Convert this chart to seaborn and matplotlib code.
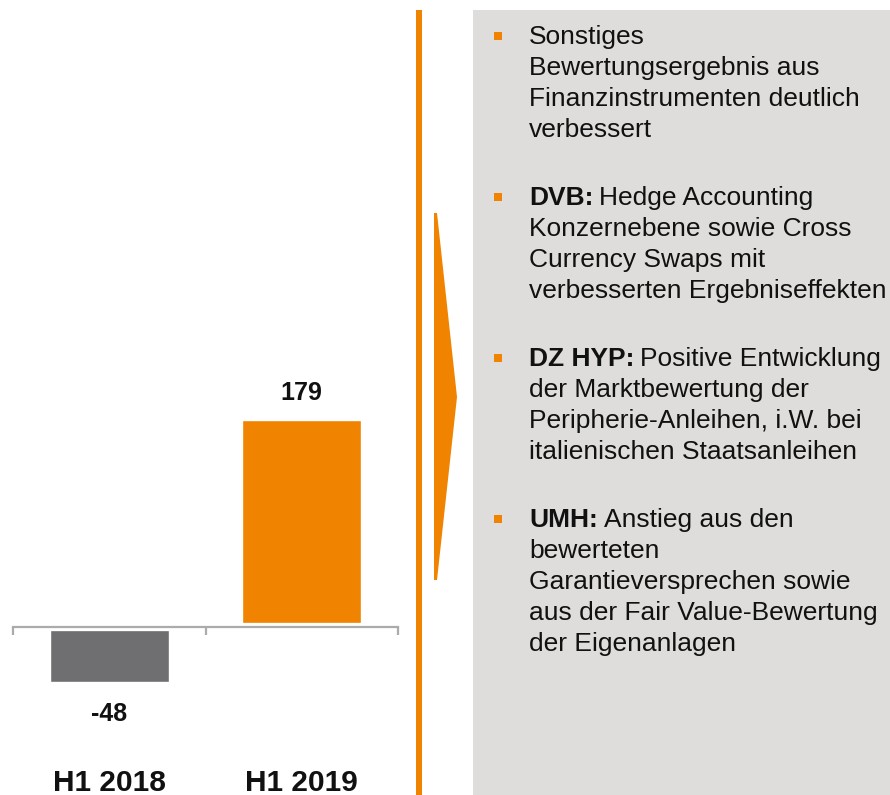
import matplotlib
matplotlib.use('Agg')
import matplotlib.pyplot as plt
import seaborn as sns
from matplotlib.patches import Rectangle, Polygon
from matplotlib.transforms import Affine2D

categories = ['H1 2018', 'H1 2019']
values = [-48, 179]
bar_colors = ['#6F6F71', '#F08300']

bold_heads = ['', 'DVB:', 'DZ HYP:', 'UMH:']
first_lines = ['Sonstiges', 'Hedge Accounting', 'Positive Entwicklung',
               'Anstieg aus den']
more_lines = [
    ['Bewertungsergebnis aus', 'Finanzinstrumenten deutlich', 'verbessert'],
    ['Konzernebene sowie Cross', 'Currency Swaps mit',
     'verbesserten Ergebniseffekten'],
    ['der Marktbewertung der', 'Peripherie-Anleihen, i.W. bei',
     'italienischen Staatsanleihen'],
    ['bewerteten', 'Garantieversprechen sowie',
     'aus der Fair Value-Bewertung', 'der Eigenanlagen'],
]

orange = '#F08300'
W, H = 890, 795

sns.set_style('white')
plt.rcParams['font.family'] = ['Liberation Sans', 'DejaVu Sans']

fig = plt.figure(figsize=(W / 100, H / 100), dpi=100)
pix = Affine2D().scale(1 / W, -1 / H).translate(0, 1) + fig.transFigure

# bar chart, zero line at y=627 px
scale = 1.156
ax = fig.add_axes([13 / W, 1 - 700 / H, 385 / W, 370 / H])
ax.patch.set_alpha(0)
sns.barplot(x=categories, y=values, hue=categories, palette=bar_colors,
            width=0.62, legend=False, saturation=1, ax=ax)
ax.set_axisbelow(False)
ax.set_xlim(-0.5, 1.5)
ax.set_ylim(-(700 - 627) / scale, (627 - 330) / scale)
for s in ['top', 'right', 'left']:
    ax.spines[s].set_visible(False)
ax.spines['bottom'].set_position(('data', 0))
ax.spines['bottom'].set_color('#ABABAB')
ax.spines['bottom'].set_linewidth(1.6)
# small white gap between bars and zero line
ax.axhline(0, color='white', lw=6, zorder=1.5)
ax.set_yticks([])
ax.set_xticks([-0.5, 0.5, 1.5], labels=['', '', ''])
ax.tick_params(axis='x', which='major', bottom=True, length=6, width=1.6,
               color='#ABABAB', direction='out')
ax.set_xticks([0, 1], labels=categories, minor=True)
ax.tick_params(axis='x', which='minor', bottom=True, length=0, pad=102,
               labelsize=21.5, labelcolor='#111111')
for lab in ax.get_xticklabels(minor=True):
    lab.set_fontweight('bold')
ax.set_xlabel('')
for c in ax.containers:
    v = c.datavalues[0]
    ax.bar_label(c, fmt='%d', padding=11 if v > 0 else 14,
                 fontsize=18, fontweight='bold', color='#111111')

# separator line and arrow
fig.patches.append(Rectangle((416, 10), 6, 785, transform=pix,
                             color=orange, lw=0))
fig.patches.append(Polygon([(434, 213), (437, 213), (457, 397), (437, 580),
                            (434, 580)], closed=True, transform=pix,
                           color=orange, lw=0))

# text box
fig.patches.append(Rectangle((473, 10), 417, 785, transform=pix,
                             color='#DEDDDC', lw=0))

renderer = fig.canvas.get_renderer()
fs = 19
y0 = 44
for i in range(len(first_lines)):
    fig.patches.append(Rectangle((494, y0 - 12), 8, 8, transform=pix,
                                 color=orange, lw=0))
    x = 529
    if bold_heads[i]:
        t = fig.text(x, y0, bold_heads[i], transform=pix, fontsize=fs,
                     fontweight='bold', color='#111111', va='baseline')
        x = x + t.get_window_extent(renderer).width + 6
    fig.text(x, y0, first_lines[i], transform=pix, fontsize=fs,
             color='#111111', va='baseline')
    y = y0
    for line in more_lines[i]:
        y += 31
        fig.text(529, y, line, transform=pix, fontsize=fs,
                 color='#111111', va='baseline')
    y0 += 161

fig.savefig('out.png', dpi=100)
